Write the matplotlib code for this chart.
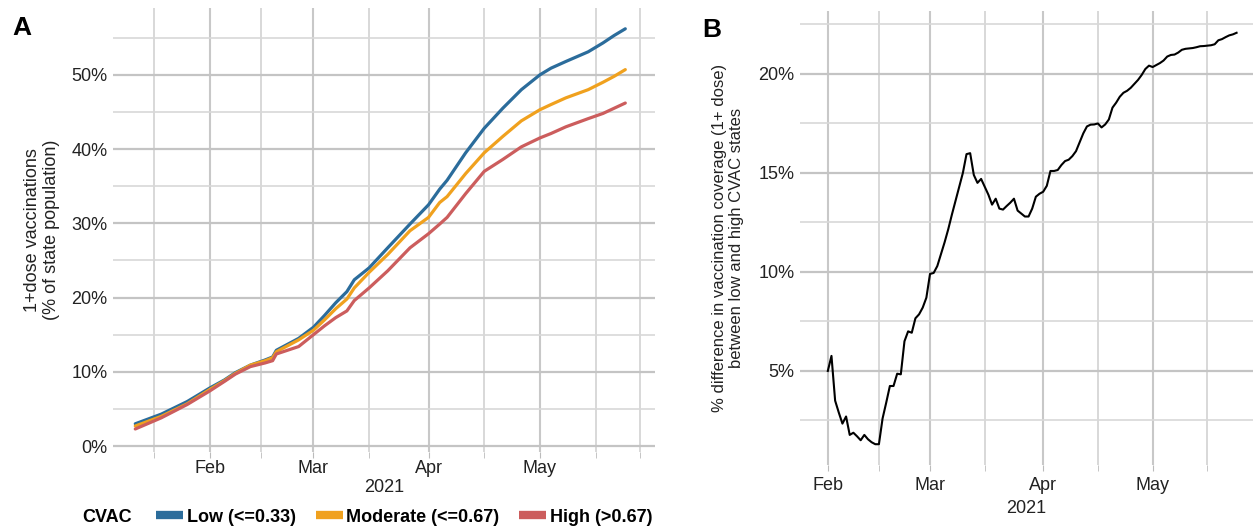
import numpy as np
import pandas as pd
import matplotlib
matplotlib.use("Agg")
import matplotlib.pyplot as plt
import matplotlib.dates as mdates
from matplotlib.lines import Line2D
from matplotlib.ticker import FuncFormatter

# Panel A: 1+ dose coverage (% of state population) by CVAC group
a_dates = ["2021-01-12", "2021-01-19", "2021-01-26", "2021-02-01", "2021-02-05",
           "2021-02-08", "2021-02-12", "2021-02-16", "2021-02-18", "2021-02-19",
           "2021-02-22", "2021-02-25", "2021-03-01", "2021-03-04", "2021-03-07",
           "2021-03-10", "2021-03-12", "2021-03-16", "2021-03-21", "2021-03-27",
           "2021-04-01", "2021-04-04", "2021-04-06", "2021-04-11", "2021-04-16",
           "2021-04-21", "2021-04-26", "2021-05-01", "2021-05-04", "2021-05-08",
           "2021-05-14", "2021-05-18", "2021-05-21", "2021-05-24"]
low_cov = [3.0, 4.3, 6.0, 7.8, 8.9, 9.9, 10.9, 11.6, 12.0, 12.9,
           13.7, 14.5, 16.0, 17.6, 19.3, 20.8, 22.4, 24.0, 26.7, 29.9,
           32.5, 34.6, 35.8, 39.5, 42.8, 45.5, 48.0, 50.0, 50.9, 51.8,
           53.1, 54.3, 55.3, 56.2]
mod_cov = [2.7, 4.0, 5.7, 7.6, 8.8, 9.8, 10.9, 11.5, 11.9, 12.7,
           13.5, 14.3, 15.6, 17.0, 18.5, 19.8, 21.3, 23.4, 25.8, 29.0,
           30.8, 32.8, 33.6, 36.7, 39.5, 41.7, 43.8, 45.3, 46.0, 46.9,
           48.0, 49.0, 49.8, 50.7]
high_cov = [2.3, 3.8, 5.6, 7.4, 8.7, 9.7, 10.7, 11.2, 11.5, 12.4,
            12.9, 13.4, 15.0, 16.2, 17.3, 18.2, 19.6, 21.3, 23.6, 26.7,
            28.6, 29.9, 30.8, 34.0, 37.0, 38.6, 40.3, 41.5, 42.1, 43.0,
            44.1, 44.8, 45.5, 46.2]
cvac_labels = ["Low (<=0.33)", "Moderate (<=0.67)", "High (>0.67)"]
cvac_colors = ["#2b6c9b", "#f0a11e", "#cc5d5d"]

# Panel B: % difference low vs high CVAC, daily from Feb 1
b_start = "2021-02-01"
b_diff = [5.0, 5.76, 3.5, 2.9, 2.34, 2.7, 1.77, 1.88, 1.7, 1.5,
          1.77, 1.55, 1.4, 1.3, 1.3, 2.6, 3.4, 4.24, 4.24, 4.86,
          4.83, 6.5, 7.0, 6.93, 7.66, 7.86, 8.2, 8.7, 9.9, 9.95,
          10.3, 10.9, 11.5, 12.16, 12.9, 13.6, 14.3, 15.0, 15.95, 16.0,
          14.9, 14.5, 14.7, 14.3, 13.9, 13.4, 13.7, 13.2, 13.15, 13.33,
          13.5, 13.7, 13.1, 12.95, 12.8, 12.8, 13.2, 13.8, 13.95, 14.05,
          14.35, 15.1, 15.1, 15.15, 15.4, 15.6, 15.67, 15.85, 16.1, 16.55,
          17.0, 17.35, 17.44, 17.45, 17.5, 17.3, 17.45, 17.7, 18.3, 18.55,
          18.85, 19.05, 19.15, 19.3, 19.5, 19.7, 19.95, 20.25, 20.42, 20.35,
          20.45, 20.55, 20.68, 20.88, 20.96, 20.98, 21.08, 21.22, 21.27, 21.29,
          21.31, 21.35, 21.4, 21.41, 21.43, 21.45, 21.5, 21.7, 21.76, 21.86,
          21.95, 22.0, 22.08]

month_breaks = ["2021-02-01", "2021-03-01", "2021-04-01", "2021-05-01"]
month_labels = ["Feb", "Mar", "Apr", "May"]
minor_a = ["2021-01-17", "2021-02-15", "2021-03-16", "2021-04-16", "2021-05-16", "2021-05-28"]
minor_b = ["2021-02-15", "2021-03-16", "2021-04-16", "2021-05-16"]

narrow = ["Liberation Sans Narrow", "Liberation Sans", "DejaVu Sans"]
regular = ["Liberation Sans", "DejaVu Sans"]
W, H = 1253, 527

fig = plt.figure(figsize=(W / 100, H / 100), dpi=100)
pct = FuncFormatter(lambda v, p: f"{v:.0f}%")


def style_axes(ax, xmaj, xmin, ymaj, ymin, family, size):
    for s in ax.spines.values():
        s.set_visible(False)
    for d in xmaj:
        ax.axvline(pd.Timestamp(d), color="#c8c8c8", lw=1.5, zorder=0)
    for d in xmin:
        ax.axvline(pd.Timestamp(d), color="#d6d6d6", lw=1.3, zorder=0)
    for v in ymaj:
        ax.axhline(v, color="#c4c4c4", lw=1.6, zorder=0)
    for v in ymin:
        ax.axhline(v, color="#d8d8d8", lw=1.2, zorder=0)
    ax.set_xticks([pd.Timestamp(d) for d in month_breaks])
    ax.set_xticklabels(month_labels, family=family, fontsize=size, color="#222222")
    ax.set_xticks([pd.Timestamp(d) for d in xmin], minor=True)
    ax.set_yticks(ymaj)
    ax.yaxis.set_major_formatter(pct)
    for lab in ax.get_yticklabels():
        lab.set_family(family)
        lab.set_fontsize(size)
        lab.set_color("#222222")
    ax.tick_params(axis="y", length=0, pad=4)
    ax.tick_params(axis="x", which="both", length=4, color="#bbbbbb", pad=2)


# ---- panel A
axA = fig.add_axes([113 / W, 1 - 452 / H, (655 - 113) / W, (452 - 8) / H])
ad = pd.to_datetime(a_dates)
for vals, c in zip([low_cov, mod_cov, high_cov], cvac_colors):
    axA.plot(ad, vals, color=c, lw=2.3, solid_capstyle="round")
axA.set_xlim(pd.Timestamp("2021-01-06"), pd.Timestamp("2021-06-01"))
axA.set_ylim(-0.8, 59.0)
style_axes(axA, month_breaks, minor_a, [0, 10, 20, 30, 40, 50], [5, 15, 25, 35, 45, 55], narrow, 13)
axA.set_xlabel("2021", family=narrow, fontsize=13, labelpad=1, color="#222222")
axA.set_ylabel("1+dose vaccinations\n(% of state population)", family=regular,
               fontsize=13, labelpad=8, color="#222222")

# ---- panel B
axB = fig.add_axes([800 / W, 1 - 465 / H, (W - 800) / W, (465 - 11) / H])
bd = pd.date_range(b_start, periods=len(b_diff), freq="D")
axB.plot(bd, b_diff, color="black", lw=1.5)
axB.set_xlim(pd.Timestamp("2021-01-24 09:00"), pd.Timestamp("2021-05-28 12:00"))
axB.set_ylim(0.25, 23.18)
style_axes(axB, month_breaks, minor_b, [5, 10, 15, 20], [2.5, 7.5, 12.5, 17.5, 22.5], regular, 13)
axB.tick_params(axis="x", which="both", pad=5)
axB.set_xlabel("2021", family=regular, fontsize=13, labelpad=4, color="#222222")
axB.set_ylabel("% difference in vaccination coverage (1+ dose)\nbetween low and high CVAC states",
               family=regular, fontsize=12, labelpad=10, color="#222222")

# panel letters
fig.text(12 / W, 1 - 28 / H, "A", fontsize=19, weight="bold", va="center", family=regular)
fig.text(702 / W, 1 - 30 / H, "B", fontsize=19, weight="bold", va="center", family=regular)

# legend
fig.text(82 / W, 1 - 517 / H, "CVAC", fontsize=13, weight="bold", va="center", family=narrow)
handles = [Line2D([], [], color=c, lw=6, solid_capstyle="butt") for c in cvac_colors]
fig.legend(handles, cvac_labels, loc="center left", bbox_to_anchor=(156 / W, 1 - 517 / H),
           ncol=3, frameon=False, handlelength=1.5, handletextpad=0.2, columnspacing=1.1,
           borderaxespad=0, borderpad=0,
           prop={"family": narrow, "weight": "bold", "size": 13})

fig.savefig("out.png", dpi=100)
